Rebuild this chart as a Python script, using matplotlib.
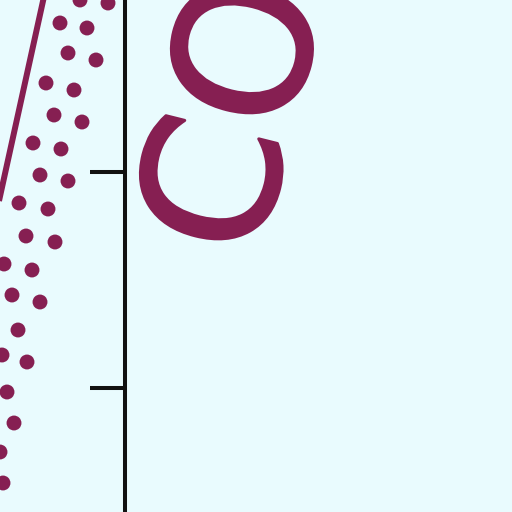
import numpy as np
import matplotlib
matplotlib.use("Agg")
import matplotlib.pyplot as plt
import matplotlib.patheffects as pe

# dot band (left panel units: x right, y down)
dot_x = [80, 108, 60, 87, 68, 96, 46, 74, 54, 82, 33, 61, 40, 68, 19, 48,
         26, 55, 4, 32, 12, 40, 18, 2, 27, 7, 14, 0, 3]
dot_y = [0, 3, 23, 28, 53, 60, 83, 90, 115, 122, 143, 149, 175, 181, 203, 209,
         236, 242, 264, 270, 295, 302, 330, 355, 362, 392, 423, 452, 483]

# trend line
line_x = [45, -3]
line_y = [-8, 210]

# right panel ticks
tick_pos = [172, 388]
label_text = "CO"

maroon = "#861f52"
bg = "#e9fbfe"

fig = plt.figure(figsize=(5.12, 5.12), dpi=100)
fig.patch.set_facecolor(bg)

# left panel with the points
ax1 = fig.add_axes([0, 0, 125 / 512, 1])
ax1.set_facecolor(bg)
ax1.set_xlim(0, 125)
ax1.set_ylim(512, 0)
ax1.axis("off")
ax1.plot(line_x, line_y, color=maroon, lw=4.3, solid_capstyle="butt")
ax1.scatter(dot_x, dot_y, s=115, color=maroon, edgecolors="none")

# right panel: only its left spine and ticks
ax2 = fig.add_axes([125 / 512, 0, 1 - 125 / 512, 1])
ax2.set_facecolor(bg)
ax2.set_ylim(512, 0)
ax2.set_xlim(0, 1)
for s in ["top", "right", "bottom"]:
    ax2.spines[s].set_visible(False)
ax2.spines["left"].set_linewidth(2.9)
ax2.spines["left"].set_color("#111111")
ax2.set_xticks([])
ax2.set_yticks(tick_pos)
ax2.set_yticklabels([])
ax2.tick_params(axis="y", direction="out", length=25, width=2.9, color="#111111")

t = fig.text(209 / 512, 1 - 250 / 512, label_text, rotation=76, rotation_mode="anchor",
             ha="left", va="center", fontsize=134, color=maroon,
             family="DejaVu Sans")
t.set_path_effects([pe.withStroke(linewidth=2.2, foreground=maroon)])

fig.savefig("out.png", dpi=100, facecolor=bg)
